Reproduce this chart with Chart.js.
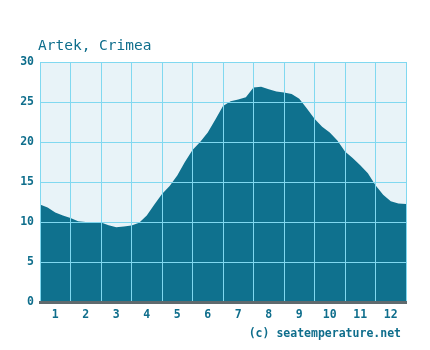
<!DOCTYPE html>
<html>
<head>
<meta charset="utf-8">
<script src="https://cdn.jsdelivr.net/npm/chart.js@4/dist/chart.umd.min.js"></script>
<style>
  html, body { margin: 0; padding: 0; background: #fff; }
  #chart { display: block; }
</style>
</head>
<body>
<canvas id="chart" width="430" height="350"></canvas>
<script>
// month labels on the x axis
const months = ['1', '2', '3', '4', '5', '6', '7', '8', '9', '10', '11', '12']
// position in months (0 = start of Jan, 12 = end of Dec), read every quarter month
const monthPos = [0, 0.25, 0.5, 0.75, 1, 1.25, 1.5, 1.75, 2, 2.25, 2.5, 2.75,
    3, 3.25, 3.5, 3.75, 4, 4.25, 4.5, 4.75, 5, 5.25, 5.5, 5.75,
    6, 6.25, 6.5, 6.75, 7, 7.25, 7.5, 7.75, 8, 8.25, 8.5, 8.75,
    9, 9.25, 9.5, 9.75, 10, 10.25, 10.5, 10.75, 11, 11.25, 11.5, 11.75, 12]
// sea temperature, deg C
const seaTemp = [12.2, 11.8, 11.2, 10.8, 10.5, 10.1, 10.0, 10.0, 9.95, 9.6, 9.35, 9.45,
    9.55, 9.9, 10.8, 12.2, 13.5, 14.5, 15.8, 17.5, 19.0, 20.0, 21.2, 22.8,
    24.5, 25.1, 25.3, 25.6, 26.8, 26.9, 26.6, 26.3, 26.2, 26.0, 25.4, 24.2,
    22.9, 21.9, 21.2, 20.2, 18.8, 18.0, 17.1, 16.1, 14.6, 13.4, 12.6, 12.3, 12.25]

const titleText = 'Artek, Crimea'
const creditText = '(c) seatemperature.net'

const textColor = '#0f6e8c'
const gridColor = '#80d8f0'
const mono = '"DejaVu Sans Mono", "Liberation Mono", monospace'

const plotBg = {
    id: 'plotBg',
    beforeDraw(chart) {
        const { ctx, chartArea: a } = chart
        ctx.save()
        ctx.fillStyle = '#e8f3f8'
        ctx.fillRect(a.left, a.top, a.right - a.left, a.bottom - a.top)
        ctx.restore()
    }
}

const labels = {
    id: 'labels',
    afterDraw(chart) {
        const ctx = chart.ctx
        ctx.save()
        ctx.fillStyle = textColor
        ctx.textBaseline = 'alphabetic'
        ctx.font = '14.5px ' + mono
        ctx.textAlign = 'left'
        ctx.fillText(titleText, 38, 50)
        ctx.font = 'bold 11.5px ' + mono
        ctx.textAlign = 'right'
        ctx.fillText(creditText, 401, 337)
        ctx.restore()
    }
}

new Chart(document.getElementById('chart'), {
    type: 'line',
    data: {
        labels: months,
        datasets: [{
            data: monthPos.map((m, i) => ({ x: m, y: seaTemp[i] })),
            xAxisID: 'xd',
            fill: 'origin',
            backgroundColor: '#0f718e',
            borderWidth: 0,
            pointRadius: 0,
            tension: 0
        }]
    },
    options: {
        responsive: false,
        animation: false,
        layout: { padding: { top: 62, right: 24, left: 0, bottom: 0 } },
        plugins: { legend: { display: false }, tooltip: { enabled: false } },
        scales: {
            x: {
                type: 'category',
                offset: true,
                grid: { offset: true, color: gridColor, lineWidth: 1, drawTicks: false, z: 1 },
                border: { color: '#5f6a6e', width: 3, z: 2 },
                ticks: { color: textColor, font: { family: mono, size: 11.5, weight: 'bold' }, padding: 6, maxRotation: 0, autoSkip: false },
                afterFit: s => { s.height = 48 }
            },
            xd: {
                type: 'linear',
                display: false,
                min: 0,
                max: 12
            },
            y: {
                min: 0,
                max: 30,
                grid: { color: gridColor, lineWidth: 1, drawTicks: false, z: 1 },
                border: { color: gridColor, width: 1, z: 1 },
                ticks: { stepSize: 5, color: textColor, font: { family: mono, size: 11.5, weight: 'bold' }, padding: 6 },
                afterFit: s => { s.width = 40 }
            }
        }
    },
    plugins: [plotBg, labels]
})
</script>
</body>
</html>
